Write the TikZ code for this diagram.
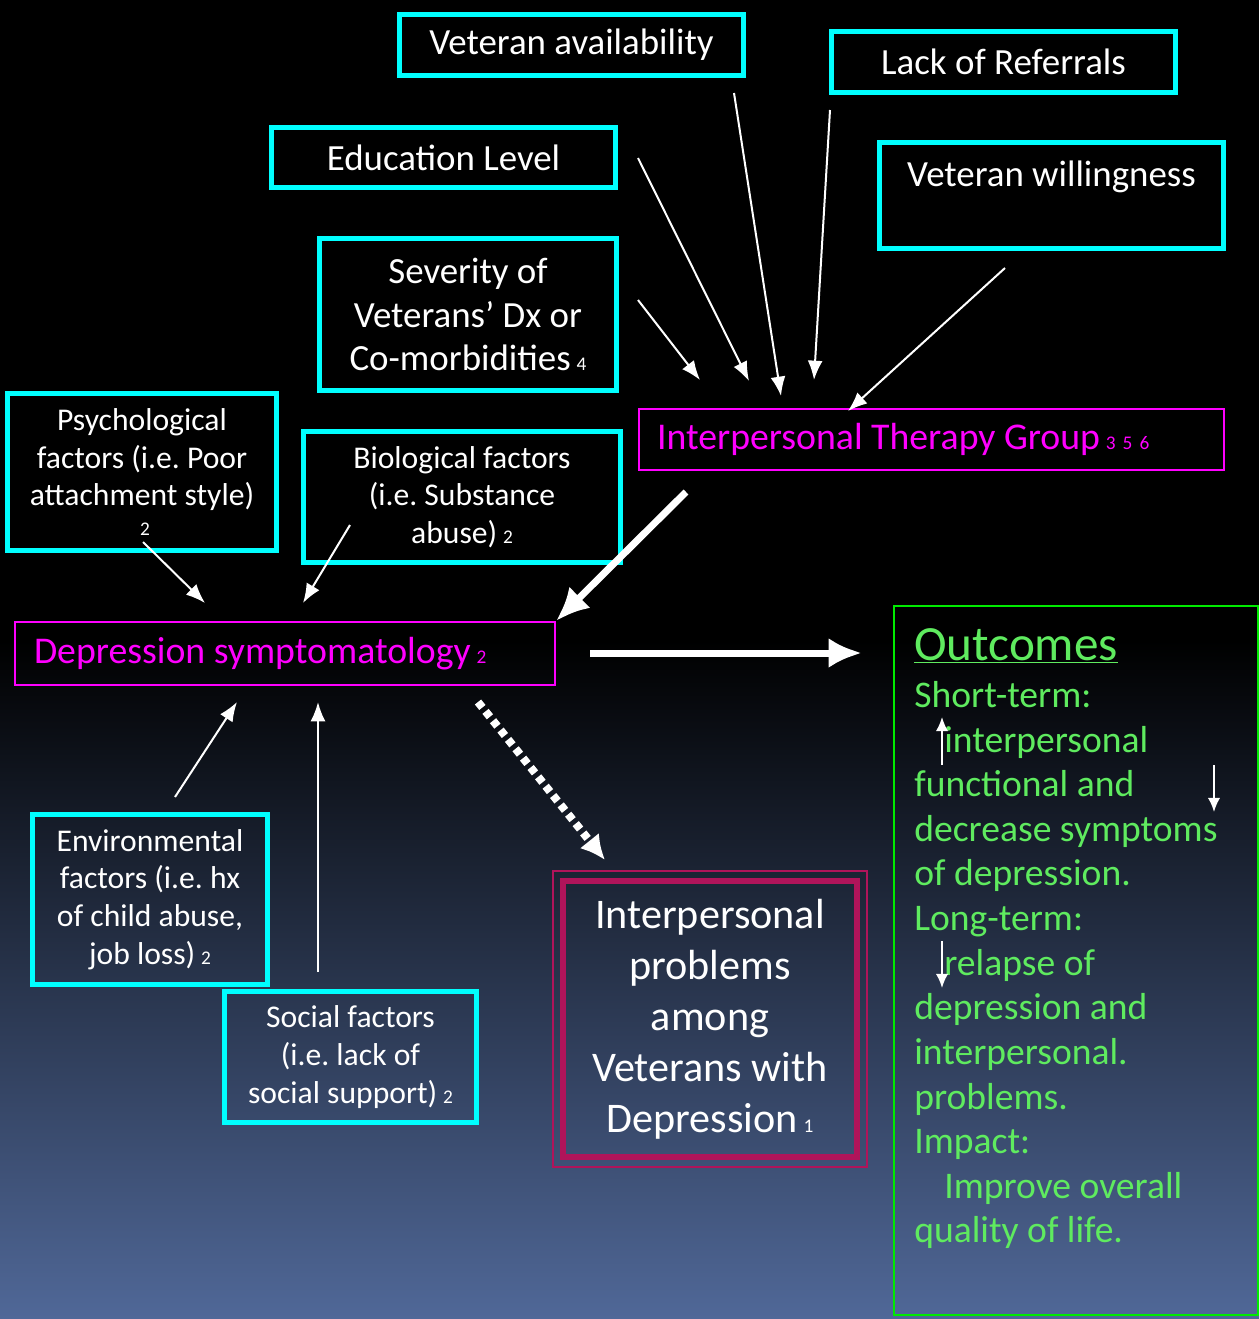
\documentclass[tikz,border=0pt]{standalone}
\usepackage{fontspec}
\setmainfont{Carlito}
\usetikzlibrary{arrows.meta}

\newlength{\unitpx}
\setlength{\unitpx}{0.02cm}

\definecolor{boxcyan}{RGB}{0,255,255}
\definecolor{boxmagenta}{RGB}{255,0,255}
\definecolor{outgreen}{RGB}{0,235,0}
\definecolor{outtext}{RGB}{95,235,95}
\definecolor{probred}{RGB}{176,20,90}
\definecolor{bottomblue}{RGB}{80,104,152}

\newcommand{\refno}[1]{{\fontsize{11}{11}\selectfont\hspace{0.3em}#1}}

\begin{document}
\frenchspacing
\begin{tikzpicture}[x=0.02cm, y=-0.02cm,
    factor/.style={draw=boxcyan, line width=5\unitpx, text=white, align=center, inner sep=0pt,
        font=\fontsize{21}{25}\selectfont},
    smallfactor/.style={factor, font=\fontsize{18}{21.5}\selectfont},
    focus/.style={draw=boxmagenta, line width=2\unitpx, text=boxmagenta, align=flush left,
        font=\fontsize{21.5}{25}\selectfont, inner ysep=0pt},
    thinarrow/.style={draw=white, line width=2\unitpx, -{Latex[length=11pt,width=8.5pt]}},
    thickarrow/.style={draw=white, line width=7\unitpx, -{Latex[length=19pt,width=17pt]}},
    dotarrow/.style={draw=white, line width=8\unitpx, dash pattern=on 7\unitpx off 5\unitpx,
        -{Latex[length=14pt,width=14pt]}},
    markarrow/.style={draw=white, line width=2\unitpx, -{Latex[length=8pt,width=7pt]}}]

    % background
    \useasboundingbox (0,0) rectangle (1259,1319);
    \fill[black] (0,0) rectangle (1259,641);
    \shade[top color=black, bottom color=bottomblue] (0,640) rectangle (1259,1319);

    % factors into the therapy group
    \node[factor, minimum width=344\unitpx, minimum height=61\unitpx] (avail) at (571.5,45) {Veteran availability};
    \node[factor, minimum width=344\unitpx, minimum height=61\unitpx] (referrals) at (1003.5,62) {Lack of Referrals};
    \node[factor, minimum width=344\unitpx, minimum height=60\unitpx] (edu) at (443.5,157.5) {Education Level};
    \node[factor, minimum width=344\unitpx, minimum height=106\unitpx] (willing) at (1051.5,195.5) {Veteran willingness\\~};
    \node[factor, minimum width=297\unitpx, minimum height=152\unitpx] (severity) at (468,314.5)
        {Severity of\\Veterans’ Dx or\\Co-morbidities\refno{4}};

    % factors into depression
    \node[smallfactor, minimum width=269\unitpx, minimum height=157\unitpx] (psych) at (142,472)
        {Psychological\\factors (i.e. Poor\\attachment style)\\[-8\unitpx]\refno{2}};
    \node[smallfactor, minimum width=317\unitpx, minimum height=131\unitpx] (bio) at (462,497)
        {Biological factors\\(i.e. Substance\\abuse)\refno{2}};
    \node[smallfactor, minimum width=235\unitpx, minimum height=170\unitpx] (env) at (150,899.5)
        {Environmental\\factors (i.e. hx\\of child abuse,\\job loss)\refno{2}};
    \node[smallfactor, minimum width=252\unitpx, minimum height=131\unitpx] (social) at (350.5,1057)
        {Social factors\\(i.e. lack of\\social support)\refno{2}};

    % therapy group and depression
    \node[focus, text width=549\unitpx, inner xsep=18\unitpx, minimum height=61\unitpx] (therapy) at (931.5,439.5)
        {Interpersonal Therapy Group\refno{3\hspace{4pt}5\hspace{4pt}6}};
    \node[focus, text width=502\unitpx, inner xsep=19\unitpx, minimum height=63\unitpx] (depr) at (285,653.5)
        {Depression symptomatology\refno{2}};

    % problems
    \node[draw=probred, line width=6\unitpx, minimum width=294\unitpx, minimum height=276\unitpx,
        text=white, align=center, font=\fontsize{24}{29}\selectfont, inner sep=0pt] (problems) at (710,1019)
        {Interpersonal\\problems\\among\\Veterans with\\Depression\refno{1}};
    \draw[probred, line width=2\unitpx] ([xshift=-7\unitpx, yshift=7\unitpx]problems.north west)
        rectangle ([xshift=7\unitpx, yshift=-7\unitpx]problems.south east);

    % outcomes
    \node[draw=outgreen, line width=2\unitpx, minimum width=364\unitpx, minimum height=709\unitpx] (outcomes) at (1076,960.5) {};
    \node[anchor=base west, text=outtext, font=\fontsize{28}{30}\selectfont, inner sep=0pt] (outhead) at (914,660)
        {\underline{Outcomes}};
    \node[anchor=north west, text=outtext, align=flush left, font=\fontsize{21.4}{25.4}\selectfont, inner sep=0pt] (outbody) at (914,681)
        {Short-term:\\
        \hspace*{30\unitpx}interpersonal\\
        functional and\\
        decrease symptoms\\
        of depression.\\
        Long-term:\\
        \hspace*{30\unitpx}relapse of\\
        depression and\\
        interpersonal.\\
        problems.\\
        Impact:\\
        \hspace*{30\unitpx}Improve overall\\
        quality of life.};

    % connector ends
    \coordinate (availout) at (734,93);    \coordinate (availin) at (781,396);
    \coordinate (refout) at (830,110);     \coordinate (refin) at (814,380);
    \coordinate (eduout) at (638,158);     \coordinate (eduin) at (749,381);
    \coordinate (willout) at (1005,268);   \coordinate (willin) at (848,411);
    \coordinate (sevout) at (638,300);     \coordinate (sevin) at (700,380);
    \coordinate (therapyout) at (686,492);
    \coordinate (psychout) at (143,542);   \coordinate (psychin) at (205,603);
    \coordinate (bioout) at (350,525);     \coordinate (bioin) at (303,603);
    \coordinate (envout) at (175,797);     \coordinate (envin) at (237,702);
    \coordinate (socialout) at (318,972);  \coordinate (socialin) at (318,702);
    \coordinate (deprout) at (590,653);    \coordinate (outin) at (862,653);
    \coordinate (deprdot) at (478,702);    \coordinate (probin) at (605,860);
    \coordinate (upa) at (942,765);        \coordinate (upb) at (942,717);
    \coordinate (downa) at (1214,765);     \coordinate (downb) at (1214,812);
    \coordinate (relapsea) at (942,941);   \coordinate (relapseb) at (942,988);

    % into therapy group
    \draw[thinarrow] (availout) -- (availin);
    \draw[thinarrow] (refout) -- (refin);
    \draw[thinarrow] (eduout) -- (eduin);
    \draw[thinarrow] (willout) -- (willin);
    \draw[thinarrow] (sevout) -- (sevin);

    % into depression
    \draw[thickarrow] (therapyout) -- (depr.north east);
    \draw[thinarrow] (psychout) -- (psychin);
    \draw[thinarrow] (bioout) -- (bioin);
    \draw[thinarrow] (envout) -- (envin);
    \draw[thinarrow] (socialout) -- (socialin);

    % out of depression
    \draw[thickarrow] (deprout) -- (outin);
    \draw[dotarrow] (deprdot) -- (probin);

    % up and down marks
    \draw[markarrow] (upa) -- (upb);
    \draw[markarrow] (downa) -- (downb);
    \draw[markarrow] (relapsea) -- (relapseb);
\end{tikzpicture}
\end{document}
